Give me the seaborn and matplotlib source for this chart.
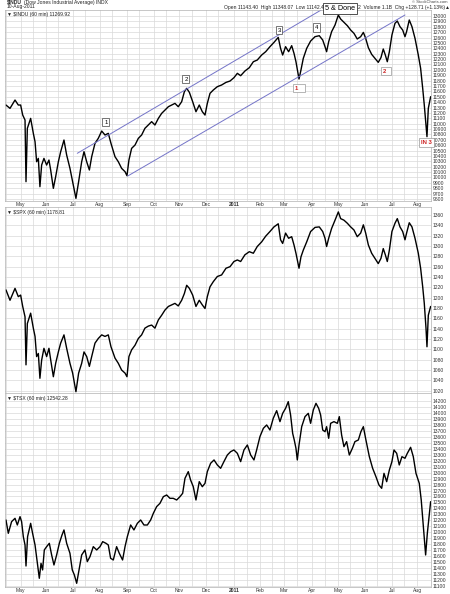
import numpy as np
import pandas as pd
import matplotlib
matplotlib.use("Agg")
import matplotlib.pyplot as plt
import seaborn as sns

# ---------------- data (trading-day offsets from 2010-04-15) ----------------
start_date = "2010-04-15"

month_dates = ["2010-05-03", "2010-06-01", "2010-07-01", "2010-08-02", "2010-09-01",
               "2010-10-01", "2010-11-01", "2010-12-01", "2011-01-03", "2011-02-01",
               "2011-03-01", "2011-04-01", "2011-05-02", "2011-06-01", "2011-07-01",
               "2011-08-01"]
month_labels = ["May", "Jun", "Jul", "Aug", "Sep", "Oct", "Nov", "Dec", "2011", "Feb",
                "Mar", "Apr", "May", "Jun", "Jul", "Aug"]
mid_dates = ["2010-04-15", "2010-05-17", "2010-06-15", "2010-07-15", "2010-08-16",
             "2010-09-15", "2010-10-15", "2010-11-15", "2010-12-15", "2011-01-17",
             "2011-02-15", "2011-03-15", "2011-04-15", "2011-05-16", "2011-06-15",
             "2011-07-15"]

us_day = [0.0, 3.3, 7.4, 10.1, 12.0, 13.7, 15.6, 16.4, 17.5, 20.2,
          22.4, 23.8, 25.1, 26.5, 27.8, 29.2, 31.1, 33.3, 35.2, 36.6,
          38.8, 40.7, 42.9, 44.8, 47.5, 49.7, 52.4, 54.6, 57.3, 59.5,
          62.0, 63.9, 66.1, 68.3, 70.2, 72.9, 75.6, 78.4, 81.1, 83.8,
          86.0, 89.3, 92.0, 94.7, 97.5, 99.1, 100.7, 102.9, 105.7, 108.4,
          111.1, 113.8, 116.6, 119.3, 122.0, 124.8, 127.5, 130.2, 133.0, 135.7,
          138.4, 141.1, 143.9, 146.1, 148.0, 150.2, 152.9, 155.6, 158.3, 160.8,
          163.0, 164.9, 167.1, 169.8, 173.1, 176.6, 180.2, 183.5, 186.7, 189.5,
          192.2, 195.7, 199.3, 202.6, 205.8, 209.4, 212.7, 216.2, 219.5, 223.0,
          224.9, 226.6, 229.0, 231.5, 234.0, 235.9, 237.5, 240.0, 241.6, 243.5,
          246.3, 249.5, 253.1, 256.6, 259.4, 261.3, 262.6, 264.3, 266.7, 269.5,
          272.2, 274.1, 276.8, 279.6, 282.3, 285.0, 287.7, 290.5, 292.7, 294.6,
          296.8, 299.5, 302.2, 304.9, 307.1, 309.0, 310.7, 312.3, 314.0, 316.1,
          318.6, 320.5, 322.7, 324.9, 326.8, 328.1, 330.3, 332.5, 335.0, 337.7,
          339.6, 341.3, 342.6, 344.0, 344.8, 345.9, 347.8]

indu = [11346, 11284, 11439, 11346, 11346, 11160, 11068, 9922, 10913, 11098,
        10820, 10665, 10293, 10355, 9829, 10231, 10355, 10231, 10324, 10139,
        9798, 10015, 10293, 10479, 10696, 10417, 10170, 9922, 9612, 9922,
        10293, 10479, 10293, 10139, 10386, 10634, 10727, 10863, 10789, 10820,
        10634, 10386, 10293, 10170, 10108, 10033, 10324, 10541, 10603, 10727,
        10789, 10913, 10975, 11037, 10975, 11098, 11191, 11253, 11315, 11346,
        11377, 11315, 11408, 11594, 11656, 11582, 11408, 11222, 11346, 11222,
        11160, 11377, 11563, 11625, 11687, 11718, 11767, 11792, 11854, 11935,
        11891, 11978, 12040, 12151, 12182, 12275, 12337, 12430, 12510, 12603,
        12399, 12275, 12430, 12337, 12449, 12306, 12151, 11829, 11997, 12213,
        12399, 12535, 12616, 12634, 12554, 12430, 12337, 12523, 12709, 12833,
        13018, 12944, 12882, 12820, 12740, 12678, 12573, 12616, 12696, 12585,
        12412, 12288, 12213, 12139, 12226, 12387, 12275, 12151, 12337, 12647,
        12864, 12907, 12802, 12740, 12616, 12709, 12926, 12802, 12585, 12275,
        12028, 11656, 11346, 10975, 10758, 11284, 11501]

spx = [1215, 1195, 1218, 1202, 1205, 1183, 1163, 1070, 1150, 1170,
       1141, 1125, 1086, 1092, 1044, 1079, 1102, 1086, 1102, 1080,
       1047, 1073, 1095, 1112, 1128, 1102, 1073, 1054, 1018, 1054,
       1073, 1095, 1086, 1067, 1086, 1112, 1121, 1128, 1125, 1128,
       1105, 1083, 1073, 1060, 1054, 1047, 1086, 1099, 1108, 1121,
       1128, 1141, 1145, 1147, 1141, 1157, 1166, 1176, 1183, 1186,
       1189, 1184, 1195, 1208, 1224, 1218, 1205, 1183, 1195, 1186,
       1179, 1202, 1221, 1231, 1241, 1244, 1257, 1260, 1270, 1273,
       1270, 1283, 1289, 1286, 1299, 1308, 1319, 1328, 1337, 1343,
       1312, 1305, 1325, 1315, 1318, 1302, 1286, 1257, 1279, 1292,
       1308, 1328, 1336, 1337, 1328, 1315, 1299, 1315, 1334, 1350,
       1366, 1353, 1350, 1344, 1337, 1331, 1318, 1325, 1341, 1325,
       1302, 1286, 1276, 1266, 1276, 1295, 1283, 1270, 1292, 1328,
       1344, 1353, 1337, 1328, 1312, 1325, 1345, 1337, 1315, 1286,
       1257, 1221, 1189, 1141, 1105, 1166, 1183]

tsx_day = [0.0, 1.9, 4.6, 7.4, 9.3, 11.5, 12.8, 14.2, 15.6, 16.4,
           17.7, 20.2, 21.8, 23.8, 25.7, 27.3, 28.7, 30.0, 31.4, 33.3,
           35.5, 37.4, 39.3, 41.5, 43.7, 45.9, 47.5, 49.7, 52.4, 54.3,
           56.0, 57.9, 59.8, 62.0, 64.7, 66.6, 68.8, 71.5, 74.3, 77.0,
           79.2, 81.9, 83.8, 85.7, 87.9, 90.6, 92.8, 95.5, 97.5, 99.4,
           102.1, 104.8, 107.6, 110.3, 113.0, 115.8, 118.5, 120.7, 123.4, 126.1,
           128.9, 131.6, 134.3, 137.0, 139.8, 142.5, 144.7, 146.6, 149.3, 151.2,
           153.4, 155.6, 158.3, 160.8, 163.0, 164.9, 167.6, 170.4, 173.1, 175.8,
           178.5, 181.3, 184.0, 186.7, 189.5, 192.2, 194.9, 197.7, 200.4, 203.1,
           205.3, 208.0, 210.8, 213.5, 216.2, 218.9, 221.7, 224.4, 226.6, 229.0,
           231.2, 233.1, 234.8, 236.1, 237.5, 238.6, 240.0, 242.2, 244.9, 247.6,
           249.5, 251.7, 253.9, 256.1, 257.7, 259.4, 261.3, 262.6, 264.3, 265.9,
           268.6, 271.4, 273.0, 274.9, 276.8, 279.0, 281.2, 283.7, 285.8, 288.6,
           290.7, 292.7, 294.8, 297.6, 300.3, 303.0, 305.5, 307.7, 309.6, 311.8,
           314.0, 316.1, 317.8, 320.0, 322.1, 324.3, 326.8, 328.7, 331.4, 333.6,
           335.8, 338.5, 340.1, 342.1, 343.7, 345.1, 346.2, 347.8]

tsx = [12206, 11983, 12178, 12234, 12122, 12262, 12178, 11927, 11787, 11435,
       11927, 12150, 11983, 11787, 11480, 11229, 11480, 11369, 11704, 11759,
       11815, 11620, 11452, 11620, 11815, 11955, 12039, 11815, 11648, 11369,
       11285, 11145, 11369, 11620, 11704, 11508, 11592, 11759, 11704, 11759,
       11843, 11815, 11787, 11564, 11536, 11759, 11648, 11536, 11759, 11927,
       12122, 12039, 12150, 12206, 12122, 12122, 12206, 12318, 12430, 12485,
       12597, 12625, 12569, 12569, 12541, 12597, 12653, 12904, 13016, 12876,
       12764, 12541, 12848, 12764, 12820, 13016, 13156, 13212, 13128, 13072,
       13184, 13295, 13351, 13379, 13323, 13184, 13379, 13463, 13295, 13212,
       13379, 13603, 13742, 13798, 13714, 13910, 14038, 13854, 13993, 14077,
       14189, 13966, 13658, 13547, 13407, 13212, 13463, 13770, 13938, 13993,
       13826, 14049, 14161, 14077, 13966, 13714, 13686, 13770, 13575, 13826,
       13854, 13826, 13938, 13630, 13435, 13519, 13295, 13407, 13519, 13547,
       13686, 13770, 13547, 13267, 13072, 12932, 12792, 12737, 12988, 12848,
       13044, 13184, 13379, 13323, 13128, 13267, 13240, 13323, 13424, 13267,
       12988, 12820, 12541, 12039, 11620, 11983, 12206, 12513]

# channel lines (day, value) and wave labels on the INDU panel
upper_day = [58.4, 261.3]
upper_val = [10449, 13154]
lower_day = [99.7, 326.8]
lower_val = [10027, 13019]

wave_text = ["1", "2", "3", "4"]
wave_day = [81.9, 147.4, 223.6, 254.7]
wave_val = [11030, 11829, 12740, 12783]

red_text = ["1   ", "2  ", "IN 3"]
red_day = [236.7, 308.8, 340.0]
red_val = [11662, 11978, 10650]

# ---------------- figure ----------------
sns.set_theme(style="white")
plt.rcParams['font.family'] = ['Liberation Sans', 'DejaVu Sans']

W, H = 450, 594
fig = plt.figure(figsize=(W / 100, H / 100), dpi=100)

def frac_box(left, top, right, bottom):
    return [left / W, 1 - bottom / H, (right - left) / W, (bottom - top) / H]

ax1 = fig.add_axes(frac_box(5, 9.5, 431, 201))
ax2 = fig.add_axes(frac_box(5, 207, 431, 393))
ax3 = fig.add_axes(frac_box(5, 393, 431, 587))

FS = 3.6
grid_c = "#d9d9d9"
month_pos = [np.busday_count(start_date, d) for d in month_dates]
mid_pos = [np.busday_count(start_date, d) for d in mid_dates]

panels = [
    (ax1, us_day, indu, (9563, 13121), np.arange(9600, 13001, 100), "▼ $INDU (60 min) 11269.92", True),
    (ax2, us_day, spx, (1015.5, 1375.5), np.arange(1020, 1361, 20), "▼ $SPX (60 min) 1178.81", False),
    (ax3, tsx_day, tsx, (11083, 14334), np.arange(11100, 14201, 100), "▼ $TSX (60 min) 12542.28", True),
]

for ax, xd, yv, ylim, yt, title, show_months in panels:
    df = pd.DataFrame({"day": xd, "value": yv})
    sns.lineplot(data=df, x="day", y="value", ax=ax, color="black",
                 linewidth=1.0, estimator=None, sort=False, legend=False)
    ax.set_xlim(-0.8, 348.1)
    ax.set_ylim(*ylim)
    ax.set_xlabel("")
    ax.set_ylabel("")
    ax.yaxis.tick_right()
    ax.set_yticks(yt)
    ax.set_yticklabels([str(int(v)) for v in yt])
    ax.set_xticks(month_pos)
    ax.set_xticks(mid_pos, minor=True)
    if show_months:
        ax.set_xticklabels(month_labels)
        for lab in ax.get_xticklabels():
            if lab.get_text() == "2011":
                lab.set_fontweight("bold")
    else:
        ax.set_xticklabels([])
    ax.tick_params(axis="both", which="both", length=0, labelsize=FS, colors="#333333")
    ax.tick_params(axis="y", pad=1.5)
    ax.tick_params(axis="x", pad=0.8)
    ax.grid(True, which="both", color=grid_c, linewidth=0.5)
    ax.set_axisbelow(True)
    for s in ax.spines.values():
        s.set_color("#b0b0b0")
        s.set_linewidth(0.5)
    ax.text(0.004, 0.985, title, transform=ax.transAxes, fontsize=FS,
            ha="left", va="top", color="#222222")

# channel lines
ax1.plot(upper_day, upper_val, color="#7474c8", linewidth=0.7)
ax1.plot(lower_day, lower_val, color="#7474c8", linewidth=0.7)

for t, d, v in zip(wave_text, wave_day, wave_val):
    ax1.text(d, v, t, fontsize=4.3, ha="center", va="center", color="black",
             bbox=dict(boxstyle="square,pad=0.3", fc="white", ec="#444444", lw=0.5))

for t, d, v in zip(red_text, red_day, red_val):
    ax1.text(d, v, t, fontsize=4.3, ha="left", va="center", color="#cc2222",
             fontweight="bold", clip_on=False, zorder=10,
             bbox=dict(boxstyle="square,pad=0.3", fc="white", ec="#999999", lw=0.5))

ax1.text(273.5, 13134, "5 & Done", fontsize=5.2, ha="center", va="center",
         color="black", clip_on=False, zorder=10,
         bbox=dict(boxstyle="square,pad=0.25", fc="white", ec="#333333", lw=0.6))

# header texts
fig.text(7 / W, 1 - 2.3 / H, "$INDU", fontsize=FS, fontweight="bold", ha="left", va="center")
fig.text(24 / W, 1 - 2.3 / H, "(Dow Jones Industrial Average) INDX", fontsize=FS,
         ha="left", va="center", color="#222222")
fig.text(7 / W, 1 - 6.8 / H, "10-Aug-2011", fontsize=FS, ha="left", va="center", color="#222222")
fig.text(447 / W, 1 - 2.2 / H, "© StockCharts.com", fontsize=3.0, ha="right", va="center",
         color="#444444")
fig.text(324 / W, 1 - 7.8 / H, "Open 11143.40  High 11348.07  Low 11142.4",
         fontsize=FS, ha="right", va="center", color="#222222")
fig.text(358 / W, 1 - 7.8 / H, "2  Volume 1.1B  Chg +128.71 (+1.13%)▲",
         fontsize=FS, ha="left", va="center", color="#222222")

fig.savefig("out.png", dpi=100)
